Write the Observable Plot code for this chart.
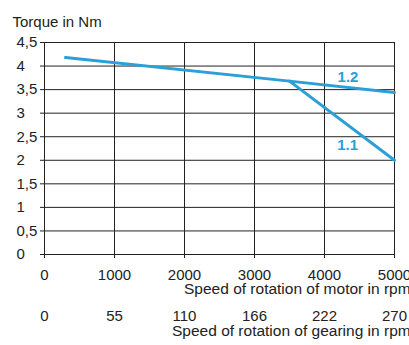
<!DOCTYPE html>
<html>
<head>
<meta charset="utf-8">
<script src="https://cdn.jsdelivr.net/npm/d3@7"></script>
<script src="https://cdn.jsdelivr.net/npm/@observablehq/plot@0.6"></script>
<style>
  html, body { margin: 0; padding: 0; background: #fff; overflow: hidden; }
</style>
</head>
<body>
<div id="chart"></div>
<script>
// Data
const motorTicks = [0, 1000, 2000, 3000, 4000, 5000];
const gearLabels = ["0", "55", "110", "166", "222", "270"];
const torqueTicks = [0, 0.5, 1, 1.5, 2, 2.5, 3, 3.5, 4, 4.5];

const curve12Speed = [300, 3500, 5000];
const curve12Torque = [4.18, 3.68, 3.44];
const curve11Speed = [3500, 5000];
const curve11Torque = [3.68, 2.0];

const curveLabels = ["1.2", "1.1"];
const curveLabelSpeed = [4336, 4330];
const curveLabelTorque = [3.77, 2.31];

const titleText = "Torque in Nm";
const motorAxisLabel = "Speed of rotation of motor in rpm";
const gearAxisLabel = "Speed of rotation of gearing in rpm";

const blue = "#2a9fd8";
const gridColor = "#222";

const curve12 = curve12Speed.map((s, i) => ({speed: s, torque: curve12Torque[i]}));
const curve11 = curve11Speed.map((s, i) => ({speed: s, torque: curve11Torque[i]}));
const labels = curveLabels.map((t, i) => ({text: t, speed: curveLabelSpeed[i], torque: curveLabelTorque[i]}));
const gearRow = motorTicks.map((m, i) => ({speed: m, text: gearLabels[i]}));

const chart = Plot.plot({
  width: 409,
  height: 345,
  marginLeft: 44,
  marginRight: 15,
  marginTop: 42,
  marginBottom: 91,
  style: {fontFamily: "'Liberation Sans', Arial, sans-serif", fontSize: "15px", color: "#222", background: "#fff"},
  x: {domain: [0, 5000]},
  y: {domain: [0, 4.5]},
  marks: [
    Plot.gridX(motorTicks, {stroke: gridColor, strokeOpacity: 1}),
    Plot.gridY(torqueTicks, {stroke: gridColor, strokeOpacity: 1}),
    Plot.axisY(torqueTicks, {tickSize: 4, tickFormat: () => "", label: null}),
    Plot.text(torqueTicks, {
      y: d => d, text: d => String(d).replace(".", ","),
      frameAnchor: "left", dx: -28, textAnchor: "start", fontSize: 15, fill: "#222"
    }),
    Plot.axisX(motorTicks, {tickSize: 4, tickPadding: 11, tickFormat: d => String(d), label: null, fontSize: 15}),
    Plot.text(gearRow, {x: "speed", text: "text", frameAnchor: "bottom", dy: 66.5, fontSize: 15, fill: "#222"}),
    Plot.text([motorAxisLabel], {frameAnchor: "bottom-left", dx: 139.5, dy: 39.5, textAnchor: "start", fontSize: 15.5, fill: "#222"}),
    Plot.text([gearAxisLabel], {frameAnchor: "bottom-left", dx: 127.5, dy: 81, textAnchor: "start", fontSize: 15.5, fill: "#222"}),
    Plot.text([titleText], {frameAnchor: "top-left", dx: -32, dy: -26, textAnchor: "start", fontSize: 15, fill: "#222"}),
    Plot.line(curve12, {x: "speed", y: "torque", stroke: blue, strokeWidth: 3}),
    Plot.line(curve11, {x: "speed", y: "torque", stroke: blue, strokeWidth: 3}),
    Plot.text(labels, {x: "speed", y: "torque", text: "text", fill: blue, fontWeight: "bold", fontSize: 15})
  ]
});
document.getElementById("chart").appendChild(chart);
</script>
</body>
</html>
